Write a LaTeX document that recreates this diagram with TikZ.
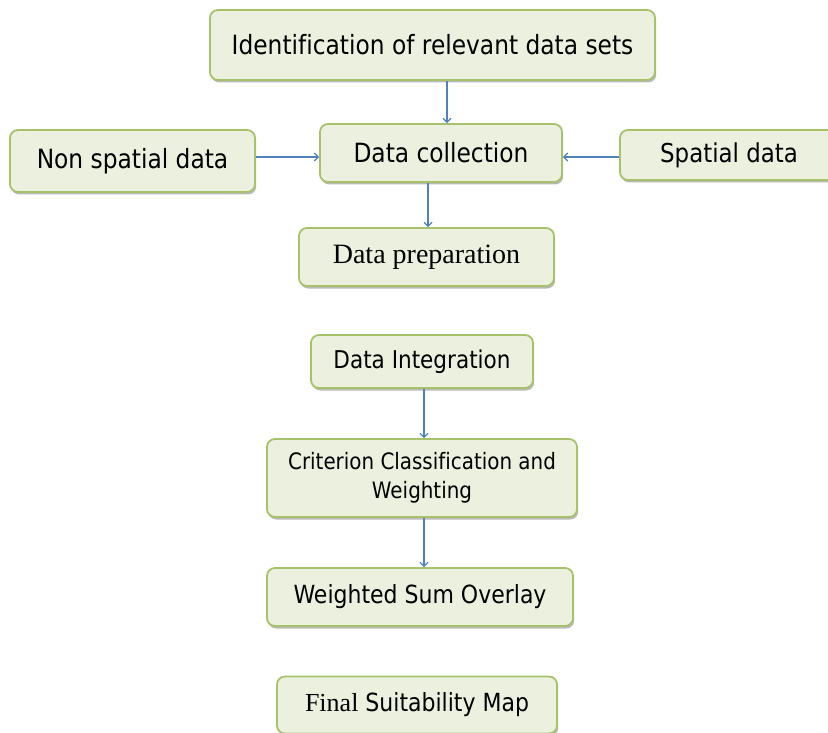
\documentclass[tikz,border=0pt]{standalone}
\usepackage{fontspec}
\setmainfont{DejaVu Sans}[FakeStretch=0.88,Ligatures={NoCommon}]
\newfontfamily\serifb{Liberation Serif}
\usetikzlibrary{arrows.meta,shadows}
\definecolor{boxfill}{HTML}{EBF1DE}
\definecolor{boxline}{HTML}{A6C26B}
\definecolor{arr}{HTML}{4F81BD}
\begin{document}
\begin{tikzpicture}[x=1pt,y=-1pt,
  box/.style={draw=boxline, line width=1.8pt, fill=boxfill, rounded corners=8pt, inner sep=0pt, align=center,
    drop shadow={shadow xshift=1.2pt, shadow yshift=-2.5pt, fill=black!50, opacity=0.55}},
  conn/.style={draw=arr, line width=1.2pt, -{Straight Barb[length=4pt,width=8pt]}}]
\useasboundingbox (0,0) rectangle (828,733);
\node[box, minimum width=445pt, minimum height=70pt, font=\fontsize{26.5}{30}\selectfont] (ident) at (432.5,45) {\raisebox{-2pt}{Identification of relevant data sets}};
\node[box, minimum width=245pt, minimum height=62pt, font=\fontsize{26.5}{30}\selectfont] (nonsp) at (132.5,161) {Non spatial data};
\node[box, minimum width=242pt, minimum height=58pt, font=\fontsize{26.5}{30}\selectfont] (dc) at (441,153) {Data collection};
\node[box, minimum width=218pt, minimum height=50pt, font=\fontsize{26}{30}\selectfont] (sp) at (729,155) {\raisebox{-4pt}{Spatial data}};
\node[box, minimum width=255pt, minimum height=58pt, font=\serifb\fontsize{28}{32}\selectfont] (dp) at (426.5,257) {Data preparation};
\node[box, minimum width=222pt, minimum height=53pt, font=\fontsize{24.5}{28}\selectfont] (di) at (422,361.5) {Data Integration};
\node[box, minimum width=310pt, minimum height=78pt, font=\fontsize{22.6}{29}\selectfont] (crit) at (422,478) {Criterion Classification and\\Weighting};
\node[box, minimum width=306pt, minimum height=58pt, font=\fontsize{25}{29}\selectfont] (wso) at (420,597) {Weighted Sum Overlay};
\node[box, minimum width=280pt, minimum height=57pt, font=\fontsize{25}{29}\selectfont] (final) at (417,705) {{\serifb\fontsize{26}{29}\selectfont Final} Suitability Map};
\coordinate (hy) at (0,157);
\draw[conn] ([xshift=14.5pt]ident.south) -- ([xshift=14.5pt]ident.south |- dc.north);
\draw[conn] ([xshift=1.5pt]dp.north |- dc.south) -- ([xshift=1.5pt]dp.north);
\draw[conn] (nonsp.east |- hy) -- (dc.west |- hy);
\draw[conn] (sp.west |- hy) -- (dc.east |- hy);
\draw[conn] ([xshift=2pt]di.south) -- ([xshift=2pt]di.south |- crit.north);
\draw[conn] ([xshift=2pt]crit.south) -- ([xshift=2pt]crit.south |- wso.north);
\end{tikzpicture}
\end{document}
